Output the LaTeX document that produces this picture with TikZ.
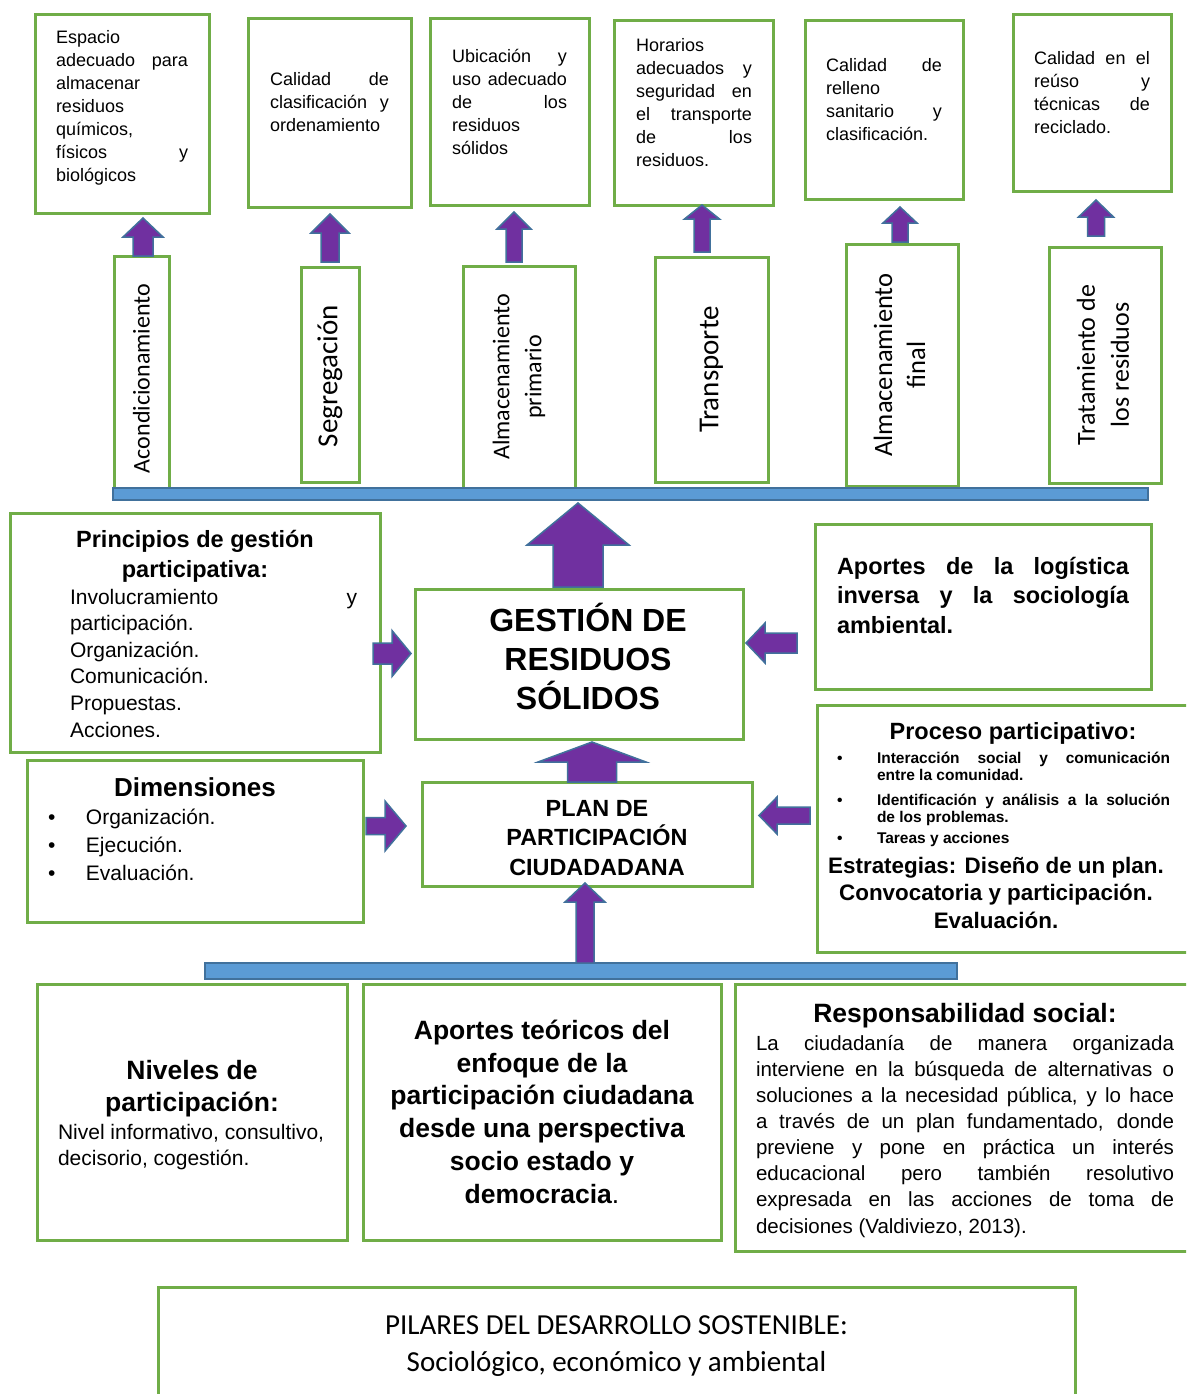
\documentclass[tikz,border=0pt]{standalone}
\usepackage{fontspec}
\setmainfont{Liberation Sans}
\newfontfamily\carlfont{Carlito}
\usepackage{graphicx}
\usetikzlibrary{calc}
\definecolor{boxgreen}{HTML}{70AD47}
\definecolor{barfill}{HTML}{5B9BD5}
\definecolor{barline}{HTML}{41719C}
\definecolor{arrowpurple}{HTML}{7030A0}
\newcommand\myJ[2]{\makebox[#1pt][s]{#2}}
\newcommand\myfst[1]{\rule{0pt}{#1pt}}
\newcommand\mybul{\makebox[59pt][l]{\hspace*{21pt}\textbullet}}
\newcommand\mybulb{\makebox[60pt][l]{\hspace*{20pt}\textbullet}}
\newcommand\topbox[5]{\parbox[c][#2pt][t]{#1pt}{\raggedright\leftskip=#3pt\fontsize{18}{23}\selectfont\myfst{#4}#5}}
% vertical block arrow: #1 tail, #2 tip, #3 head length, #4 head half width, #5 shaft half width
\newcommand\blkV[5]{\draw[blk] let \p1=#1, \p2=#2 in
  ({\x1-#5},\y1) -- ({\x1-#5},{\y2-#3}) -- ({\x1-#4},{\y2-#3}) -- (\x1,\y2)
  -- ({\x1+#4},{\y2-#3}) -- ({\x1+#5},{\y2-#3}) -- ({\x1+#5},\y1) -- cycle;}
% horizontal block arrow
\newcommand\blkH[5]{\draw[blk] let \p1=#1, \p2=#2 in
  (\x1,{\y1-#5}) -- ({\x2-(#3)},{\y1-#5}) -- ({\x2-(#3)},{\y1-#4}) -- (\x2,\y1)
  -- ({\x2-(#3)},{\y1+#4}) -- ({\x2-(#3)},{\y1+#5}) -- (\x1,{\y1+#5}) -- cycle;}
\tikzset{
  gbox/.style={draw=boxgreen, line width=3pt, fill=white, inner sep=0pt, outer sep=0pt, anchor=north west},
  lab/.style={gbox, anchor=center},
  bar/.style={draw=barline, fill=barfill, line width=2pt, inner sep=0pt, outer sep=0pt, anchor=north west},
  blk/.style={draw=barline, fill=arrowpurple, line width=1.5pt}
}
\begin{document}
\begin{tikzpicture}[x=1pt,y=-1pt]
\useasboundingbox (0,0) rectangle (1186,1394);
\fill[white] (0,0) rectangle (1186,1394);
\clip (0,0) rectangle (1186,1394);

% top boxes
\node[gbox] (b1) at (35,15) {\topbox{174}{198}{21}{28.5}{Espacio\\ \myJ{132}{adecuado para}\\ almacenar\\ residuos\\ químicos,\\ \myJ{132}{físicos y}\\ biológicos}};
\node[gbox] (b2) at (248,19) {\topbox{163}{188}{22}{66.5}{\myJ{119}{Calidad de}\\ \myJ{119}{clasificación y}\\ ordenamiento}};
\node[gbox] (b3) at (430,19) {\topbox{159}{186}{22}{43.5}{\myJ{115}{Ubicación y}\\ \myJ{115}{uso adecuado}\\ \myJ{115}{de los}\\ residuos\\ sólidos}};
\node[gbox] (b4) at (614,21) {\topbox{159}{184}{22}{30.5}{Horarios\\ \myJ{116}{adecuados y}\\ \myJ{116}{seguridad en}\\ \myJ{116}{el transporte}\\ \myJ{116}{de los}\\ residuos.}};
\node[gbox] (b5) at (805,21) {\topbox{158}{178}{21}{50.5}{\myJ{116}{Calidad de}\\ relleno\\ \myJ{116}{sanitario y}\\ clasificación.}};
\node[gbox] (b6) at (1013,15) {\topbox{158}{176}{21}{49.5}{\myJ{116}{Calidad en el}\\ \myJ{116}{reúso y}\\ \myJ{116}{técnicas de}\\ reciclado.}};

% stage labels
\node[lab, minimum width=55pt, minimum height=234pt] (l1) at (141.5,373) {\rotatebox{90}{\carlfont\fontsize{24}{32}\selectfont Acondicionamiento\hspace*{11pt}}};
\node[lab, minimum width=58pt, minimum height=215pt] (l2) at (330,374.5) {\rotatebox{90}{\carlfont\fontsize{29}{34}\selectfont Segregación\hspace*{3pt}}};
\node[lab, minimum width=112pt, minimum height=222pt] (l3) at (519,377) {\rotatebox{90}{\carlfont\fontsize{24}{32}\selectfont\begin{tabular}{@{}c@{}}Almacenamiento\\ primario\end{tabular}}};
\node[lab, minimum width=113pt, minimum height=225pt] (l4) at (711.5,369.5) {\rotatebox{90}{\carlfont\fontsize{29}{34}\selectfont Transporte}};
\node[lab, minimum width=112pt, minimum height=242pt] (l5) at (902,365) {\rotatebox{90}{\carlfont\fontsize{26.5}{33}\selectfont\begin{tabular}{@{}c@{}}Almacenamiento\\ final\end{tabular}}};
\node[lab, minimum width=112pt, minimum height=236pt] (l6) at (1105,365) {\rotatebox{90}{\carlfont\fontsize{26}{34}\selectfont\begin{tabular}{@{}c@{}}Tratamiento de\\ los residuos\end{tabular}}};

\node[bar, minimum width=1035pt, minimum height=12pt] (bar1) at (113,488) {};

% middle
\node[gbox] (g) at (415,589) {\parbox[c][150pt][t]{328pt}{\centering\leftskip=18pt plus 1fil\bfseries\fontsize{32}{39}\selectfont\myfst{42.5}GESTIÓN DE\\ RESIDUOS\\ SÓLIDOS}};

\node[gbox] (pr) at (10,513) {\parbox[c][239pt][t]{370pt}{%
  {\centering\bfseries\fontsize{23.5}{30}\selectfont\myfst{34.4}Principios de gestión\\ participativa:\par}%
  \fontsize{21}{26.6}\selectfont\leftskip=60pt
  \myJ{287}{Involucramiento y}\\ participación.\\ Organización.\\ Comunicación.\\ Propuestas.\\ Acciones.}};

\node[gbox] (ap) at (815,524) {\parbox[c][165pt][t]{336pt}{\leftskip=22pt\bfseries\fontsize{23.5}{29.5}\selectfont\myfst{50.4}\myJ{292}{Aportes de la logística}\\ \myJ{292}{inversa y la sociología}\\ ambiental.}};

\node[gbox] (dm) at (27,760) {\parbox[c][162pt][t]{336pt}{%
  {\centering\bfseries\fontsize{26}{30}\selectfont\myfst{36.3}Dimensiones\par}%
  \fontsize{21}{28}\selectfont
  \mybul Organización.\\ \mybul Ejecución.\\ \mybul Evaluación.}};

\node[gbox] (pl) at (422,782) {\parbox[c][104pt][t]{330pt}{\centering\leftskip=20pt plus 1fil\bfseries\fontsize{23.4}{29.5}\selectfont\myfst{34.4}PLAN DE\\ PARTICIPACIÓN\\ CIUDADADANA}};

\node[gbox] (pp) at (817,705) {\parbox[c][247pt][t]{380pt}{%
  \bfseries\fontsize{23.5}{28}\selectfont\myfst{34.4}\makebox[392pt]{Proceso participativo:}\par
  \vspace{7.1pt}\fontsize{15.5}{17}\selectfont
  \mybulb\myJ{293}{Interacción social y comunicación}\\ \hspace*{60pt}entre la comunidad.\par
  \vspace{8pt}
  \mybulb\myJ{293}{Identificación y análisis a la solución}\\ \hspace*{60pt}de los problemas.\par
  \vspace{4pt}
  \mybulb Tareas y acciones\par
  \vspace{2pt}\fontsize{22.4}{27.5}\selectfont
  \makebox[358pt]{Estrategias: Diseño de un plan.}\\ \makebox[358pt]{Convocatoria y participación.}\\ \makebox[358pt]{Evaluación.}}};

\node[bar, minimum width=752pt, minimum height=16pt] (bar2) at (205,963) {};

% bottom
\node[gbox] (nv) at (37,984) {\parbox[c][256pt][t]{310pt}{%
  {\centering\bfseries\fontsize{26.5}{32}\selectfont\myfst{95.3}Niveles de\\ participación:\par}%
  \vspace{2pt}\leftskip=21pt\fontsize{21}{26}\selectfont Nivel informativo, consultivo,\\ decisorio, cogestión.}};

\node[gbox] (at) at (363,984) {\parbox[c][256pt][t]{358pt}{\centering\bfseries\fontsize{26.5}{32.8}\selectfont\myfst{55.3}Aportes teóricos del\\ enfoque de la\\ participación ciudadana\\ desde una perspectiva\\ socio estado y\\ democracia{\mdseries.}}};

\node[gbox] (rs) at (735,984) {\parbox[c][267pt][t]{465pt}{%
  \bfseries\fontsize{26.5}{30}\selectfont\myfst{38.3}\makebox[460pt]{Responsabilidad social:}\par
  \vspace{1.9pt}\mdseries\fontsize{20.5}{26.1}\selectfont\leftskip=21pt
  \myJ{418}{La ciudadanía de manera organizada}\\
  \myJ{418}{interviene en la búsqueda de alternativas o}\\
  \myJ{418}{soluciones a la necesidad pública, y lo hace}\\
  \myJ{418}{a través de un plan fundamentado, donde}\\
  \myJ{418}{previene y pone en práctica un interés}\\
  \myJ{418}{educacional pero también resolutivo}\\
  \myJ{418}{expresada en las acciones de toma de}\\
  decisiones (Valdiviezo, 2013).}};

\node[gbox] (pi) at (158,1287) {\parbox[c][120pt][t]{917pt}{\centering\carlfont\fontsize{29}{37}\selectfont\myfst{47}PILARES DEL DESARROLLO SOSTENIBLE:\\ Sociológico, económico y ambiental}};

% block arrows
\blkV{([xshift=1.5pt]l1.north)}{([yshift=-5pt]b1.south)}{19pt}{20pt}{10pt}
\blkV{([yshift=5pt]l2.north)}{([yshift=-7pt]b2.south)}{19pt}{19pt}{9pt}
\blkV{([xshift=-5pt,yshift=4pt]l3.north)}{([yshift=-7pt]b3.south)}{17pt}{17pt}{8pt}
\blkV{([xshift=-9.5pt,yshift=5pt]l4.north)}{(b4.south)}{14pt}{17.5pt}{8pt}
\blkV{([xshift=-2pt,yshift=2pt]l5.north)}{([yshift=-8pt]b5.south)}{16pt}{17pt}{8pt}
\blkV{([xshift=-9pt,yshift=11pt]l6.north)}{([yshift=-9pt]b6.south)}{17pt}{17.5pt}{8.5pt}
\blkV{([xshift=-1pt,yshift=2pt]g.north)}{([yshift=-3pt]bar1.south)}{42pt}{51pt}{25pt}
\blkV{([xshift=5pt]pl.north)}{([yshift=-3pt]g.south)}{20pt}{54pt}{24.5pt}
\blkV{([xshift=4pt]bar2.north)}{([yshift=3pt]pl.south)}{19pt}{20pt}{9pt}
\blkH{([xshift=-7pt,yshift=-21pt]pr.east)}{([xshift=-4pt]g.west)}{19pt}{23pt}{10.5pt}
\blkH{([xshift=-18pt,yshift=-36.5pt]ap.west)}{([xshift=3pt]g.east)}{-19pt}{20pt}{10pt}
\blkH{([xshift=3pt,yshift=15pt]dm.east)}{([xshift=-16pt]pl.west)}{21pt}{25pt}{8.5pt}
\blkH{([xshift=-7pt,yshift=13pt]pp.west)}{([xshift=7pt]pl.east)}{-18pt}{18.5pt}{8.5pt}
\end{tikzpicture}
\end{document}
